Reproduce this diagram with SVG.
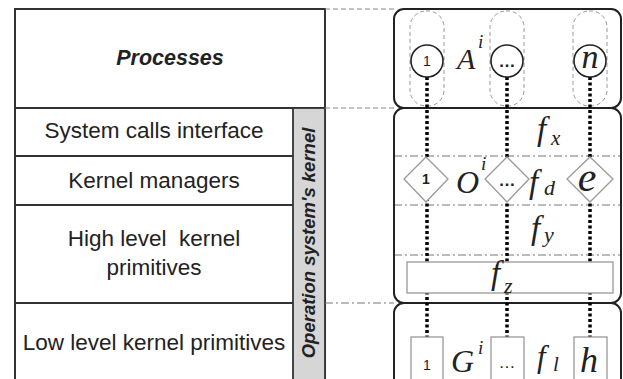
<svg xmlns="http://www.w3.org/2000/svg" width="623" height="379" viewBox="0 0 623 379">
<style>
.tbl{fill:none;stroke:#333;stroke-width:2}
.row{stroke:#333;stroke-width:1.8}
.lbl{font-family:"Liberation Sans",Arial,sans-serif;font-size:22.5px;fill:#222;text-anchor:middle}
.box{fill:none;stroke:#222;stroke-width:2}
.cap{fill:none;stroke:#999;stroke-width:1;stroke-dasharray:4 3}
.dd{fill:none;stroke:#777;stroke-width:1;stroke-dasharray:8 3 2 3}
.dsh{fill:none;stroke:#888;stroke-width:1;stroke-dasharray:5 3}
.dot{stroke:#000;stroke-width:3.5;stroke-dasharray:3 2.5}
.circ{fill:#fff;stroke:#222;stroke-width:1.6}
.gshape{fill:#fff;stroke:#999;stroke-width:1.3}
.m{font-family:"Liberation Serif","Times New Roman",serif;font-style:italic;fill:#222}
.s{font-family:"Liberation Sans",Arial,sans-serif;fill:#222;text-anchor:middle}
</style>
<rect width="623" height="379" fill="#fff"/>

<g id="left-table">
  <rect class="tbl" x="15" y="9" width="310" height="380"/>
  <line class="row" x1="15" y1="108" x2="325" y2="108"/>
  <line class="row" x1="15" y1="156" x2="293" y2="156"/>
  <line class="row" x1="15" y1="205" x2="293" y2="205"/>
  <line class="row" x1="15" y1="303" x2="293" y2="303"/>
</g>
<g id="processes">
  <text x="170" y="65" class="lbl" style="font-weight:bold;font-style:italic;font-size:21.5px">Processes</text>
</g>
<g id="syscalls"><text x="154" y="138" class="lbl">System calls interface</text></g>
<g id="managers"><text x="154" y="188" class="lbl">Kernel managers</text></g>
<g id="highlevel">
  <text x="154" y="246" class="lbl" xml:space="preserve">High level  kernel</text>
  <text x="154" y="275" class="lbl">primitives</text>
</g>
<g id="lowlevel"><text x="154" y="350" class="lbl">Low level kernel primitives</text></g>
<g id="os-kernel">
  <rect x="293" y="108" width="32" height="280" fill="#d6d6d6" stroke="#333" stroke-width="1.8"/>
  <text transform="translate(315,243) rotate(-90)" x="0" y="0" font-family="Liberation Sans, Arial, sans-serif" font-size="18.5" font-weight="bold" font-style="italic" fill="#222" text-anchor="middle">Operation system's kernel</text>
</g>

<g id="guides">
  <line class="dsh" x1="325" y1="9" x2="394" y2="9"/>
  <line class="dsh" x1="325" y1="108" x2="394" y2="108"/>
  <line class="dd" x1="325" y1="303" x2="394" y2="303"/>
  <line class="dd" x1="394" y1="156" x2="621" y2="156"/>
  <line class="dd" x1="394" y1="205" x2="621" y2="205"/>
  <line class="dd" x1="394" y1="255" x2="621" y2="255"/>
</g>

<g id="panel-A">
  <rect class="box" x="394" y="9" width="227" height="99" rx="10"/>
  <rect class="cap" x="410" y="11" width="34" height="95" rx="16"/>
  <rect class="cap" x="490" y="11" width="34" height="95" rx="16"/>
  <rect class="cap" x="573" y="11" width="34" height="95" rx="16"/>
</g>
<g id="panel-kernel">
  <rect class="box" x="394" y="108" width="227" height="195" rx="10"/>
</g>
<g id="panel-G">
  <rect class="box" x="394" y="303" width="227" height="86" rx="10"/>
</g>

<g id="connectors">
  <line class="dot" x1="427" y1="77" x2="427" y2="337"/>
  <line class="dot" x1="507" y1="77" x2="507" y2="337"/>
  <line class="dot" x1="590" y1="77" x2="590" y2="337"/>
</g>

<g id="A-nodes">
  <circle class="circ" cx="427" cy="61" r="16"/>
  <text class="s" x="427" y="66" font-size="14">1</text>
  <circle class="circ" cx="507" cy="61" r="16"/>
  <text class="s" x="507" y="67" font-size="17" font-weight="bold">…</text>
  <circle class="circ" cx="590" cy="61" r="16"/>
  <text class="m" x="590" y="68" font-size="34" text-anchor="middle">n</text>
  <text class="m" x="457" y="69" font-size="30">A</text>
  <text class="m" x="478" y="48" font-size="19">i</text>
</g>

<g id="f-labels">
  <text class="m" x="537" y="140" font-size="33">f</text>
  <text class="m" x="551" y="145" font-size="21">x</text>
  <text class="m" x="529" y="193" font-size="33">f</text>
  <text class="m" x="544" y="195" font-size="22">d</text>
  <text class="m" x="531" y="239" font-size="33">f</text>
  <text class="m" x="544" y="242" font-size="22">y</text>
</g>

<g id="O-nodes">
  <polygon class="gshape" points="426,157 448,179 426,202 404,179"/>
  <text class="s" x="426" y="184" font-size="14" font-weight="bold">1</text>
  <polygon class="gshape" points="507,157 529,179 507,202 485,179"/>
  <text class="s" x="507" y="186" font-size="17" font-weight="bold">…</text>
  <polygon class="gshape" points="590,157 613,179 590,202 567,179"/>
  <text class="m" x="587" y="191" font-size="42" text-anchor="middle">e</text>
  <text class="m" x="456" y="193" font-size="32">O</text>
  <text class="m" x="481" y="170" font-size="19">i</text>
</g>

<g id="fz">
  <rect class="gshape" x="407" y="262" width="206" height="31"/>
  <text class="m" x="491" y="284" font-size="33">f</text>
  <text class="m" x="504" y="293" font-size="22">z</text>
</g>

<g id="G-nodes">
  <rect class="gshape" x="411" y="337" width="32" height="50"/>
  <text class="s" x="427" y="370" font-size="14">1</text>
  <rect class="gshape" x="491" y="337" width="33" height="50"/>
  <text class="s" x="507" y="368" font-size="17">…</text>
  <rect class="gshape" x="574" y="337" width="33" height="50"/>
  <text class="m" x="589" y="372" font-size="36" text-anchor="middle">h</text>
  <text class="m" x="451" y="372" font-size="32">G</text>
  <text class="m" x="478" y="354" font-size="19">i</text>
  <text class="m" x="537" y="367" font-size="31">f</text>
  <text class="m" x="553" y="371" font-size="21">l</text>
</g>
</svg>
